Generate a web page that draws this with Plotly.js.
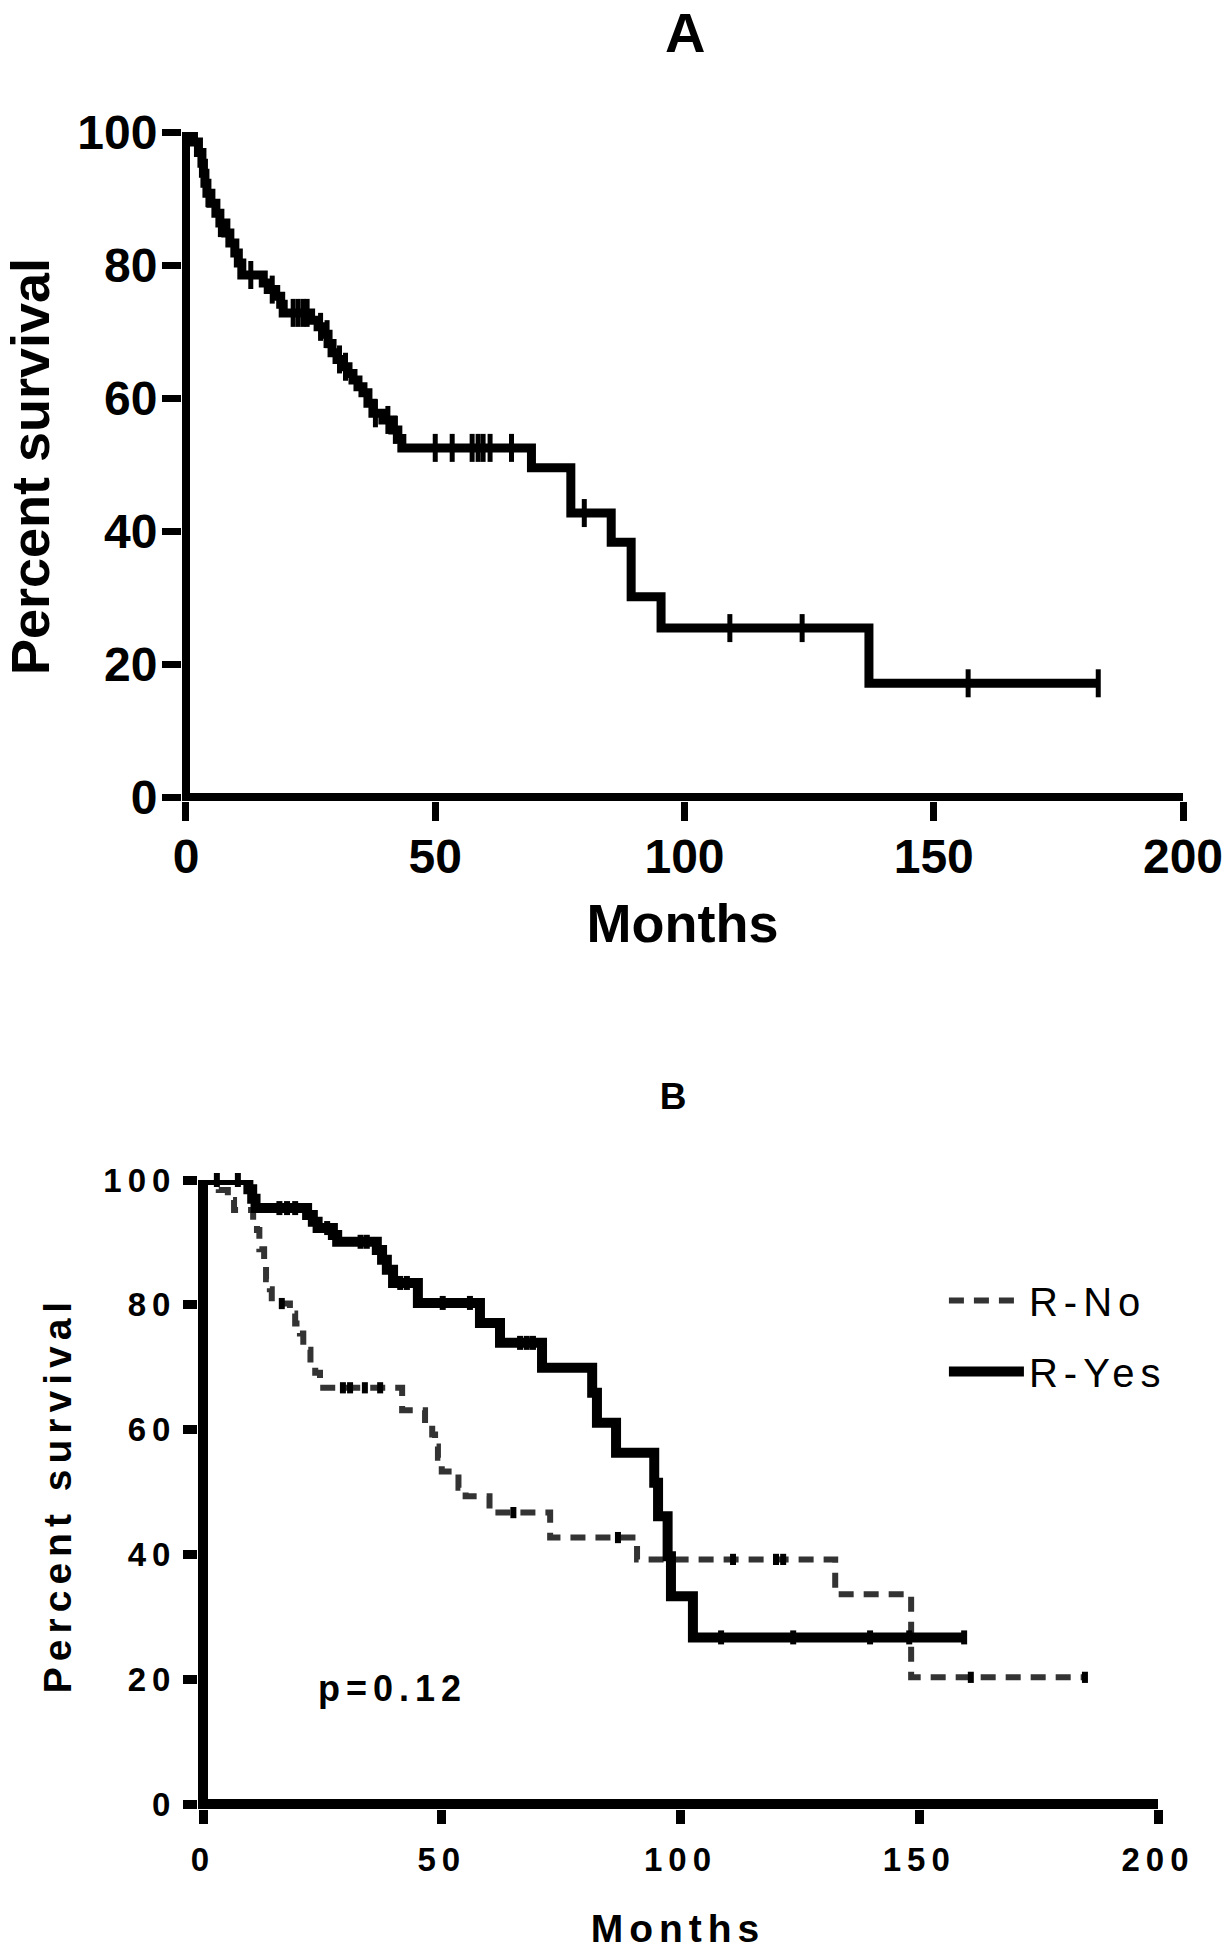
<!DOCTYPE html>
<html>
<head>
<meta charset="utf-8">
<script src="https://cdn.plot.ly/plotly-3.0.1.min.js"></script>
<style>
html, body { margin: 0; padding: 0; background: #ffffff; }
#plotA, #plotB { width: 1228px; height: 975px; }
#plotB text { letter-spacing: 6px; }
body.spaced #js-plotly-tester text { letter-spacing: 6px; }
</style>
</head>
<body>
<div id="plotA"></div>
<div id="plotB"></div>
<script>
// ---------- Panel A: overall survival (Kaplan-Meier) ----------
const aEventMonths = [0, 1.5, 2.5, 3.2, 3.5, 3.8, 4.2, 5, 6, 6.8, 8, 8.8, 9.8, 10.5, 11.2, 15.5, 16.5, 18, 19, 19.5, 25, 26.5, 27.5, 28.5, 29.3, 30.3, 31.3, 32.5, 33.5, 34.5, 35.5, 36.5, 37.5, 39.5, 41.5, 42.5, 43.3, 69.3, 77.2, 85.3, 89.3, 95.3, 137];
const aSurvival = [100, 98.5, 96.9, 95.3, 93.8, 92.3, 90.8, 89.3, 87.8, 86.3, 84.8, 83.3, 81.8, 80.3, 78.5, 77.3, 76.3, 75.3, 74.1, 72.8, 71.7, 70.7, 69.6, 68.2, 66.8, 65.8, 64.7, 63.7, 62.7, 61.7, 60.8, 59.2, 57.7, 56.7, 55.2, 53.9, 52.5, 49.5, 42.7, 38.3, 30.1, 25.4, 17.1];
const aLastMonth = 183;
const aCensorMonths = [4.4, 6.9, 13, 17.3, 21.5, 22.5, 23.5, 24.3, 27, 28.3, 30.8, 32, 38, 40.5, 42, 50, 53.4, 57.4, 58.6, 59.6, 61, 65.3, 79.9, 109.1, 123.6, 156.9, 183];

// ---------- Panel B: R-No vs R-Yes ----------
const groupNames = ['R-No', 'R-Yes'];
const noEventMonths = [0, 3.3, 5.2, 6.5, 10.5, 11.3, 11.8, 12.8, 13.2, 14, 14.4, 18.2, 19.3, 20.3, 21, 22.5, 23.5, 24.5, 41.7, 46.5, 48, 48.6, 49.2, 50, 53.5, 55, 60, 72.7, 90.9, 132.4, 148.3];
const noSurvival = [100, 98.4, 96.8, 95.2, 93.6, 92, 88.9, 87.3, 84.1, 82.5, 80.2, 78.6, 77, 75.4, 72.8, 70.4, 69.1, 66.7, 63.1, 60.8, 59.2, 57.3, 55.5, 53.3, 50.7, 49.3, 46.7, 42.7, 39.2, 33.6, 20.3];
const noLastMonth = 184.7;
const noCensorMonths = [16.5, 29.3, 30.8, 33.9, 37.1, 65, 86.9, 111, 120, 121.5, 160.8, 184.7];

const yesEventMonths = [0, 9.5, 10.3, 11, 21.8, 23, 24, 27.2, 28.1, 36.4, 37.5, 38.5, 39.8, 45, 58, 62.2, 71, 81.5, 82.5, 86.5, 94.5, 95.3, 97.3, 98, 102.6];
const yesSurvival = [100, 98.5, 97, 95.5, 94.4, 93.3, 92.3, 91.2, 90.1, 88.8, 87.2, 85.6, 83.5, 80.3, 77.1, 73.9, 69.9, 65.9, 61.1, 56.3, 51.5, 46.1, 39.7, 33.3, 26.7];
const yesLastMonth = 159.4;
const yesCensorMonths = [2.9, 7.3, 16, 17.6, 19.3, 26, 33, 34.3, 41.3, 42.7, 50.2, 55.9, 66.4, 67.8, 69.1, 108.5, 123.6, 139.7, 147.9, 159.4];

const xTickVals = [0, 50, 100, 150, 200];
const yTickVals = [0, 20, 40, 60, 80, 100];
const pValueText = 'p=0.12';

// ---------- helpers ----------
function levelAt(months, surv, t) {
  let v = surv[0];
  for (let i = 0; i < months.length; i++) { if (months[i] <= t) v = surv[i]; }
  return v;
}
function stepTrace(months, surv, last, line, name, group) {
  return {
    type: 'scatter', mode: 'lines', name: name || '', legendgroup: group || '',
    x: months.concat([last]), y: surv.concat([surv[surv.length - 1]]),
    line: Object.assign({ shape: 'hv' }, line),
    cliponaxis: false, hoverinfo: 'skip', showlegend: !!name
  };
}
function censorTrace(months, surv, censors, size, width, color, group) {
  return {
    type: 'scatter', mode: 'markers', legendgroup: group || '',
    x: censors, y: censors.map(t => levelAt(months, surv, t)),
    marker: { symbol: 'line-ns', size: size, color: color, line: { width: width, color: color } },
    cliponaxis: false, hoverinfo: 'skip', showlegend: false
  };
}

const fam = 'Liberation Sans, Arial, Helvetica, sans-serif';

// ---------- Panel A ----------
const tracesA = [
  stepTrace(aEventMonths, aSurvival, aLastMonth, { color: '#000', width: 9 }),
  censorTrace(aEventMonths, aSurvival, aCensorMonths, 20, 5, '#000')
];
function axisA(extra) {
  return Object.assign({
    showline: false, zeroline: true, zerolinewidth: 8, zerolinecolor: '#000',
    ticks: 'outside', ticklen: 19, tickwidth: 7, tickcolor: '#000',
    showgrid: false, fixedrange: true,
    tickfont: { family: fam, size: 48, color: '#000', weight: 'bold' }
  }, extra);
}
const layoutA = {
  width: 1228, height: 975,
  margin: { l: 182, r: 45, t: 132, b: 174 },
  paper_bgcolor: '#fff', plot_bgcolor: '#fff',
  showlegend: false,
  title: { text: 'A', font: { family: fam, size: 56, color: '#000', weight: 'bold' },
           xref: 'container', x: 0.558, xanchor: 'center', yref: 'container', y: 0.967, yanchor: 'middle' },
  xaxis: axisA({ range: [-0.8, 200], tickmode: 'array', tickvals: xTickVals, ticklabelstandoff: -6,
    title: { text: 'Months', font: { family: fam, size: 54, color: '#000', weight: 'bold' }, standoff: 22 } }),
  yaxis: axisA({ range: [-0.6, 100], tickmode: 'array', tickvals: yTickVals, ticklabelstandoff: -5,
    title: { text: 'Percent survival', font: { family: fam, size: 54, color: '#000', weight: 'bold' }, standoff: 20 } })
};

// ---------- Panel B ----------
const tracesB = [
  stepTrace(noEventMonths, noSurvival, noLastMonth, { color: '#333333', width: 6, dash: '15px,10px' }, groupNames[0], 'g1'),
  stepTrace(yesEventMonths, yesSurvival, yesLastMonth, { color: '#000000', width: 10 }, groupNames[1], 'g2'),
  censorTrace(noEventMonths, noSurvival, noCensorMonths, 8, 6, '#000', 'g1'),
  censorTrace(yesEventMonths, yesSurvival, yesCensorMonths, 10, 6, '#000', 'g2')
];
function axisB(extra) {
  return Object.assign({
    showline: false, zeroline: true, zerolinewidth: 10, zerolinecolor: '#000',
    ticks: 'outside', ticklen: 14, tickwidth: 9, tickcolor: '#000',
    showgrid: false, fixedrange: true,
    tickfont: { family: fam, size: 33, color: '#000', weight: 'bold' }
  }, extra);
}
const layoutB = {
  width: 1228, height: 975,
  margin: { l: 198, r: 70, t: 205, b: 141 },
  paper_bgcolor: '#fff', plot_bgcolor: '#fff',
  showlegend: true,
  legend: { x: 0.777, xanchor: 'left', y: 0.860, yanchor: 'top', traceorder: 'grouped', tracegroupgap: 16,
            itemwidth: 75, bgcolor: 'rgba(0,0,0,0)', font: { family: fam, size: 40, color: '#000' } },
  title: { text: 'B', font: { family: fam, size: 37, color: '#000', weight: 'bold' },
           xref: 'container', x: 0.5505, xanchor: 'center', yref: 'container', y: 0.876, yanchor: 'middle' },
  xaxis: axisB({ range: [-1.05, 200], tickmode: 'array', tickvals: xTickVals, ticklabelstandoff: 7,
    title: { text: 'Months', font: { family: fam, size: 39, color: '#000', weight: 'bold' }, standoff: 43 } }),
  yaxis: axisB({ range: [-0.8, 100], tickmode: 'array', tickvals: yTickVals,
    title: { text: 'Percent survival', font: { family: fam, size: 39, color: '#000', weight: 'bold' }, standoff: 19 } }),
  annotations: [{ text: pValueText, xref: 'paper', yref: 'paper', x: 0.203, y: 0.192, xanchor: 'center', yanchor: 'middle',
                  showarrow: false, font: { family: fam, size: 36, color: '#000', weight: 'bold' } }]
};

Plotly.newPlot('plotA', tracesA, layoutA, { staticPlot: true }).then(function () {
  document.body.classList.add('spaced');
  return Plotly.newPlot('plotB', tracesB, layoutB, { staticPlot: true });
});
</script>
</body>
</html>
